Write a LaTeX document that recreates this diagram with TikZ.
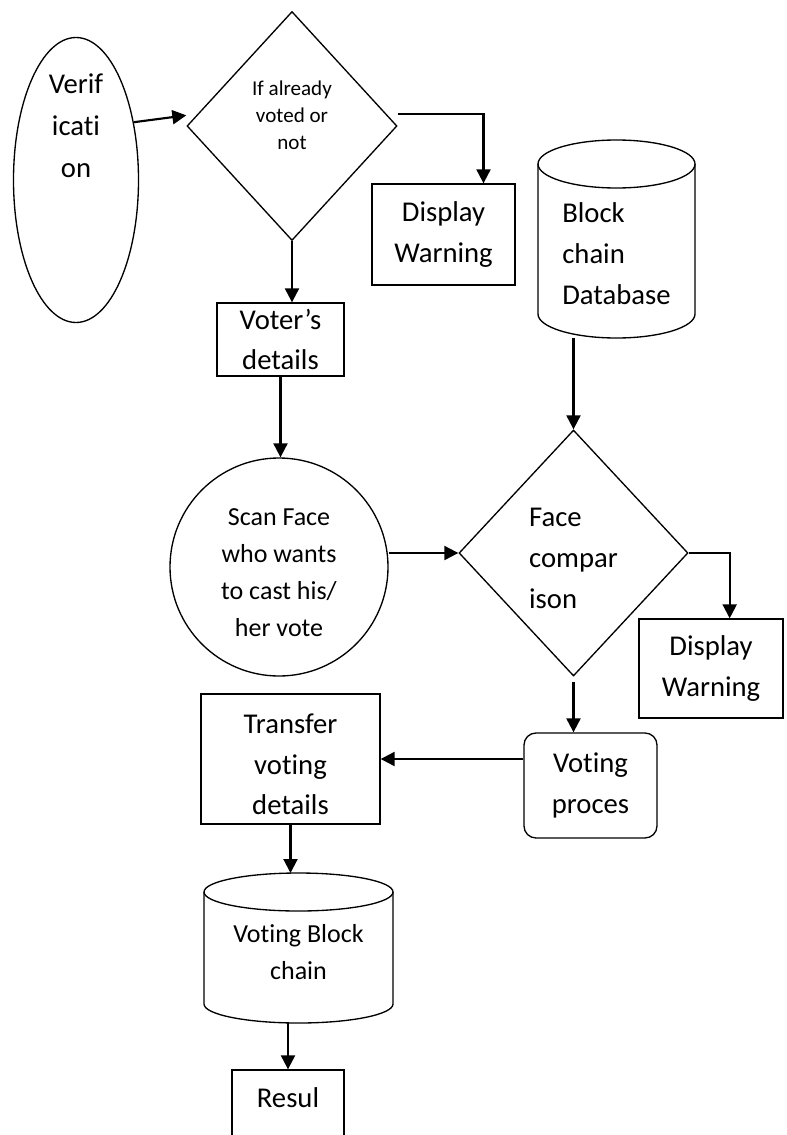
\documentclass[tikz,border=0pt]{standalone}
\usepackage{fontspec}
\setmainfont{Carlito}[Ligatures=NoCommon]
\usetikzlibrary{arrows.meta}
\usetikzlibrary{positioning}
\usetikzlibrary{shapes.geometric}

\tikzset{
  shapebox/.style={draw, line width=1pt, inner sep=0pt},
  dbbox/.style={inner sep=0pt, outer sep=0pt},
  dbline/.style={line width=1pt},
  flowarrow/.style={-{Triangle[length=10.5pt, width=10.5pt]}, line width=1.6pt},
  bigtext/.style={font=\fontsize{21.5}{30.5}\selectfont, align=center},
  midtext/.style={font=\fontsize{19.5}{27.75}\selectfont, align=center},
  smalltext/.style={font=\fontsize{15.8}{20.5}\selectfont, align=center}
}

\begin{document}
\begin{tikzpicture}[x=0.75pt, y=-0.75pt]
      \useasboundingbox (0,0) rectangle (787,1135);
      \clip (0,0) rectangle (787,1135);

      \node[shapebox, ellipse, minimum width=93.75pt, minimum height=213.75pt,
        label={[bigtext, font=\fontsize{21.5}{31.5}\selectfont, yshift=41pt]center:Verif\\icati\\on}] (verif) at (76,180) {};
      \node[shapebox, diamond, minimum width=157.5pt, minimum height=171.75pt,
        label={[smalltext, yshift=8pt]center:If already\\voted or\\not}] (ifvoted) at (292,126) {};
      \node[shapebox, bigtext, minimum width=107.25pt, minimum height=75.75pt] (warnone) at (443.5,234.5) {Display\\Warning};
      \node[shapebox, bigtext, minimum width=95.25pt, minimum height=54.75pt] (voter) at (280.5,339.5) {Voter’s\\details};
      \node[shapebox, circle, minimum size=163.5pt,
        label={[midtext, yshift=-4pt]center:Scan Face\\who wants\\to cast his/\\her vote}] (scan) at (279,567) {};
      \node[dbbox, minimum width=117.75pt, minimum height=148.5pt,
        label={[bigtext, align=left, yshift=-11pt]center:Block\\chain\\Database}] (bcdb) at (616.5,239) {};
      \node[shapebox, diamond, minimum width=171.75pt, minimum height=184.5pt,
        label={[bigtext, align=left, yshift=-4pt]center:Face\\compar\\ison}] (facecmp) at (573.5,553) {};
      \node[shapebox, bigtext, minimum width=108pt, minimum height=74.25pt] (warntwo) at (711,668.5) {Display\\Warning};
      \node[shapebox, bigtext, rounded corners=9pt, minimum width=99.75pt, minimum height=78.75pt] (vote) at (590.5,785.5) {Voting\\proces};
      \node[shapebox, minimum width=134.25pt, minimum height=97.5pt,
        label={[bigtext, yshift=-4pt]center:Transfer\\voting\\details}] (transfer) at (290.5,759) {};
      \node[dbbox, minimum width=141.75pt, minimum height=112.5pt,
        label={[midtext, yshift=-3pt]center:Voting Block\\chain}] (vbc) at (298.5,948) {};
      \node[shapebox, minimum width=84pt, minimum height=90pt,
        label={[bigtext, yshift=24pt]center:Resul}] (result) at (288,1130) {};

      \draw[dbline] ([yshift=-18pt]bcdb.north) ellipse [x radius=58.875pt, y radius=18pt];
      \draw[dbline] ([yshift=-18pt]bcdb.north west) -- ([yshift=18pt]bcdb.south west)
        arc[start angle=180, end angle=360, x radius=58.875pt, y radius=18pt] -- ([yshift=-18pt]bcdb.north east);
      \draw[dbline] ([yshift=-14.25pt]vbc.north) ellipse [x radius=70.875pt, y radius=14.25pt];
      \draw[dbline] ([yshift=-14.25pt]vbc.north west) -- ([yshift=14.25pt]vbc.south west)
        arc[start angle=180, end angle=360, x radius=70.875pt, y radius=14.25pt] -- ([yshift=-14.25pt]vbc.north east);

      \draw[flowarrow] (verif.45) -- ([yshift=8pt]ifvoted.west);
      \draw[flowarrow] ([yshift=9pt]ifvoted.east) -| ([xshift=30pt]warnone.north);
      \draw[flowarrow] (ifvoted.south) -- (ifvoted.south |- voter.north);
      \draw[flowarrow] (voter.south) -- (voter.south |- scan.north);
      \draw[flowarrow] (scan.east |- facecmp.west) -- (facecmp.west);
      \draw[flowarrow] (facecmp.north |- bcdb.south) -- (facecmp.north);
      \draw[flowarrow] (facecmp.east) -| ([xshift=14pt]warntwo.north);
      \draw[flowarrow, shorten <=4pt] (facecmp.south) -- (facecmp.south |- vote.north);
      \draw[flowarrow] (vote.west |- transfer.east) -- (transfer.east);
      \draw[flowarrow] (transfer.south) -- (transfer.south |- vbc.north);
      \draw[flowarrow] (result.north |- vbc.south) -- (result.north);
\end{tikzpicture}
\end{document}
